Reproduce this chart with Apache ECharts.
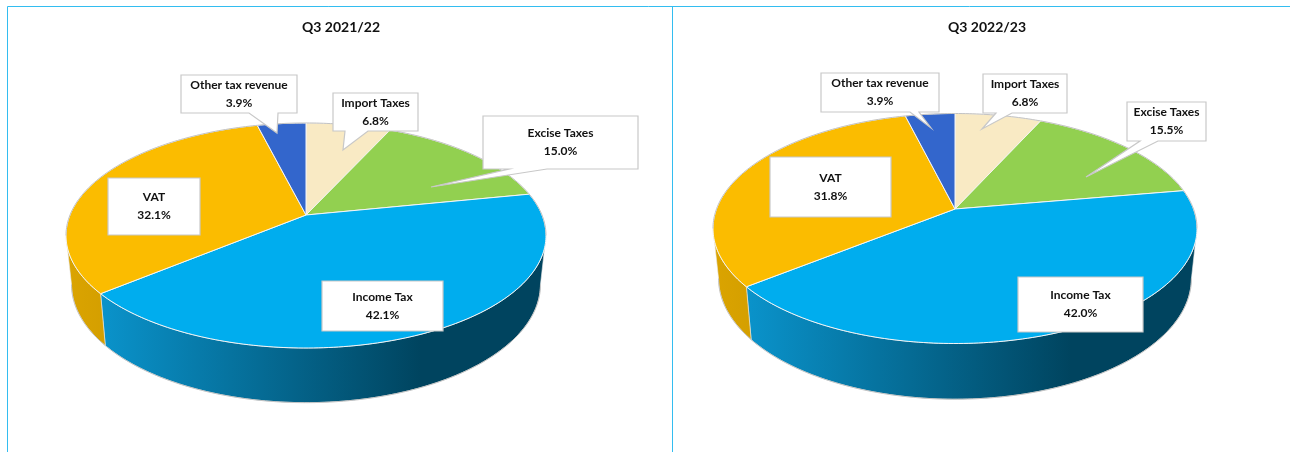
<!DOCTYPE html>
<html>
<head>
<meta charset="utf-8">
<style>html,body{margin:0;padding:0;background:#fff}#main{width:1290px;height:452px}</style>
<script src="https://cdn.jsdelivr.net/npm/echarts@6/dist/echarts.min.js"></script>
</head>
<body>
<div id="main"></div>
<script>
// data
var categories = ['Import Taxes', 'Excise Taxes', 'Income Tax', 'VAT', 'Other tax revenue'];
var values2122 = [6.8, 15.0, 42.1, 32.1, 3.9];
var values2223 = [6.8, 15.5, 42.0, 31.8, 3.9];
var titles = ['Q3 2021/22', 'Q3 2022/23'];

var colors = ['#f9eac4', '#92d050', '#00adee', '#fbbc00', '#3366cc'];
var wallStops = [null, null, [['#0a93cb', 0], ['#00445f', 0.72], ['#00445f', 1]], [['#dba400', 0], ['#d49f00', 1]], null];
var font = 'Lato, "Noto Sans", sans-serif';

// perspective of each disc: cx/cy apex, near/far pixel reach, rx widest half width
var pieLeft = { cx: 306, cy: 215, near: 133, far: 92, rx: 240, wall: 48 };
var pieRight = { cx: 955, cy: 209, near: 134.5, far: 95.5, rx: 242, wall: 49 };

// callouts: box x0,y0,x1,y1 then optional pointer baseX0, baseX1, tipX, tipY
var boxesLeft = [
    [333, 93, 418, 131, 345, 368, 343, 150],
    [483, 116, 638, 169, 509, 547, 431, 187],
    [322, 281, 443, 331],
    [108, 178, 200, 235],
    [181, 75, 297, 113, 249, 278, 277, 133]
];
var boxesRight = [
    [983, 74, 1067, 113, 996, 1012, 982, 129],
    [1127, 102, 1206, 141, 1140, 1158, 1086, 177],
    [1018, 277, 1143, 332],
    [770, 157, 891, 217],
    [821, 73, 939, 112, 910, 919, 931, 128]
];

function makeProjector(pie) {
    var p = (pie.near - pie.far) / (pie.near + pie.far);
    var a = pie.near * (1 - p);
    var b = pie.rx * Math.sqrt(1 - p * p);
    return {
        p: p,
        top: function (deg) {
            var t = deg * Math.PI / 180, x = Math.sin(t), y = -Math.cos(t), w = 1 - p * y;
            return [pie.cx + b * x / w, pie.cy + a * y / w];
        },
        bottom: function (deg) {
            var t = deg * Math.PI / 180, x = Math.sin(t), y = -Math.cos(t), w = 1 - p * y;
            return [pie.cx + 0.977 * b * x / w, pie.cy + pie.wall + 1.05 * a * y / w];
        }
    };
}

function arc(fn, from, to) {
    var pts = [], step = from < to ? 1 : -1;
    for (var d = from; step > 0 ? d < to : d > to; d += step) pts.push(fn(d));
    pts.push(fn(to));
    return pts;
}

function sliceRenderer(values, pie) {
    var proj = makeProjector(pie);
    var total = values.reduce(function (s, v) { return s + v; }, 0);
    var wallFrom = Math.acos(-proj.p) * 180 / Math.PI, wallTo = 360 - wallFrom;
    return function (params, api) {
        var i = params.dataIndex, before = 0;
        for (var k = 0; k < i; k++) before += values[k];
        var start = before / total * 360;
        var end = start + api.value(0) / total * 360;
        var children = [];

        var a0 = Math.max(start, wallFrom), a1 = Math.min(end, wallTo);
        if (a1 > a0 && wallStops[i]) {
            var stops = wallStops[i].map(function (s) { return { color: s[0], offset: s[1] }; });
            var rimBottom = arc(proj.bottom, a1, a0);
            children.push({
                type: 'polygon',
                shape: { points: arc(proj.top, a0, a1).concat(rimBottom) },
                style: { fill: new echarts.graphic.LinearGradient(0, 0, 1, 0, stops), stroke: '#e8e8e8', lineWidth: 0.6 }
            });
            children.push({
                type: 'polyline',
                shape: { points: rimBottom },
                style: { fill: null, stroke: '#c4c4c4', lineWidth: 1 }
            });
        }

        var rim = arc(proj.top, start, end);
        children.push({
            type: 'polygon',
            shape: { points: [[pie.cx, pie.cy]].concat(rim) },
            style: { fill: colors[i], stroke: '#f4f4f4', lineWidth: 1 }
        });
        var b0 = start, b1 = end;
        var backRanges = [[b0, Math.min(b1, wallFrom)], [Math.max(b0, wallTo), b1]];
        backRanges.forEach(function (r) {
            if (r[1] > r[0]) {
                children.push({
                    type: 'polyline',
                    shape: { points: arc(proj.top, r[0], r[1]) },
                    style: { fill: null, stroke: '#c2c2c2', lineWidth: 1 }
                });
            }
        });
        return { type: 'group', children: children };
    };
}

function calloutRenderer(boxes) {
    return function (params, api) {
        var b = boxes[params.dataIndex];
        var pts = [[b[0], b[1]], [b[2], b[1]], [b[2], b[3]]];
        if (b.length > 4) pts.push([b[5], b[3]], [b[6], b[7]], [b[4], b[3]]);
        pts.push([b[0], b[3]]);
        return {
            type: 'group',
            children: [{
                type: 'polygon',
                shape: { points: pts },
                style: { fill: '#fff', stroke: '#c8c8c8', lineWidth: 1.2 }
            }, {
                type: 'text',
                x: (b[0] + b[2]) / 2,
                y: (b[1] + b[3]) / 2,
                style: {
                    text: categories[params.dataIndex] + '\n' + api.value(0).toFixed(1) + '%',
                    fill: '#111',
                    font: 'bold 12px ' + font,
                    lineHeight: 18,
                    align: 'center',
                    verticalAlign: 'middle'
                }
            }]
        };
    };
}

function customSeries(values, renderer, z) {
    return {
        type: 'custom',
        coordinateSystem: 'none',
        silent: true,
        animation: false,
        z: z,
        data: values.map(function (v) { return [v]; }),
        renderItem: renderer
    };
}

var frameColor = '#33bdf0';
function frameLine(x1, y1, x2, y2) {
    return { type: 'line', shape: { x1: x1, y1: y1, x2: x2, y2: y2 }, style: { stroke: frameColor, lineWidth: 1 } };
}

var myChart = echarts.init(document.getElementById('main'));
var option = {
    animation: false,
    title: [
        { text: titles[0], left: 336, top: 15, textAlign: 'center', textStyle: { fontFamily: font, fontSize: 14, fontWeight: 'bold', color: '#111' } },
        { text: titles[1], left: 982, top: 15, textAlign: 'center', textStyle: { fontFamily: font, fontSize: 14, fontWeight: 'bold', color: '#111' } }
    ],
    graphic: [
        frameLine(7.5, 6.5, 1290, 6.5),
        frameLine(7.5, 6.5, 7.5, 452),
        frameLine(672.5, 6.5, 672.5, 452)
    ],
    series: [
        customSeries(values2122, sliceRenderer(values2122, pieLeft), 2),
        customSeries(values2223, sliceRenderer(values2223, pieRight), 2),
        customSeries(values2122, calloutRenderer(boxesLeft), 3),
        customSeries(values2223, calloutRenderer(boxesRight), 3)
    ]
};
myChart.setOption(option);
</script>
</body>
</html>
